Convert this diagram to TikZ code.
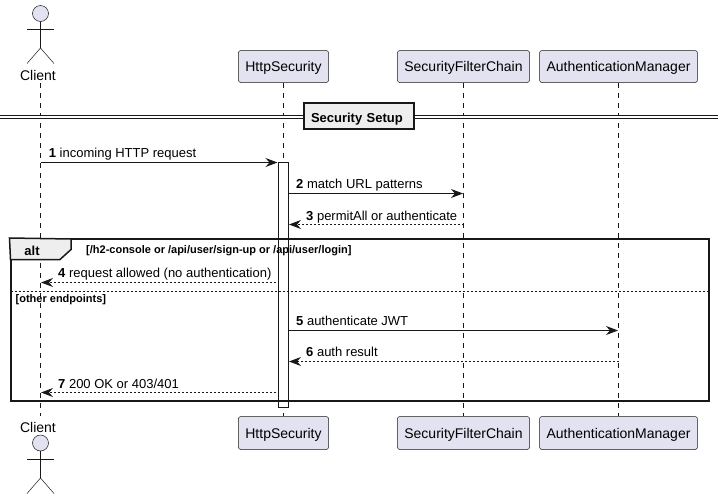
\documentclass[tikz,border=0pt]{standalone}
\usepackage{fontspec}
\setmainfont{Liberation Sans}
\usetikzlibrary{arrows.meta}

\definecolor{partfill}{HTML}{E2E2F0}
\definecolor{linedark}{HTML}{181818}
\definecolor{tabfill}{HTML}{EEEEEE}

\begin{document}
\begin{tikzpicture}[x=1pt,y=-1pt,>={Stealth[length=12pt,width=9pt,inset=4pt]},node distance=180pt,
    part/.style={rectangle,draw=linedark,line width=0.5pt,fill=partfill,rounded corners=2.5pt,minimum height=32pt,inner xsep=7pt,inner ysep=0pt,text height=10.4pt,text depth=0pt,font=\fontsize{14}{16}\selectfont},
    actor text/.style={inner sep=0pt,text height=10pt,text depth=3pt,font=\fontsize{14}{16}\selectfont},
    actor line/.style={draw=linedark,line width=0.5pt},
    life/.style={draw=linedark,line width=0.5pt,dash pattern=on 5pt off 5pt},
    call/.style={->,draw=linedark,line width=1pt},
    reply/.style={->,draw=linedark,line width=1pt,dash pattern=on 2pt off 2pt},
    msg/.style={anchor=base west,inner sep=0pt,font=\fontsize{13}{15}\selectfont},
    guard/.style={anchor=base west,inner sep=0pt,font=\fontsize{11}{13}\selectfont\bfseries}]
    \useasboundingbox (0,0) rectangle (724,499);

    % participants, top row and bottom row
    \node [part] (http) at (283.5,66.5) {HttpSecurity};
    \node [part] (chain) [right of=http] {SecurityFilterChain};
    \node [part] (manager) [right of=chain, xshift=-25pt] {AuthenticationManager};
    \node [part, minimum height=33pt] (http2) [below of=http, yshift=-186.5pt] {HttpSecurity};
    \node [part, minimum height=33pt] (chain2) [below of=chain, yshift=-186.5pt] {SecurityFilterChain};
    \node [part, minimum height=33pt] (manager2) [below of=manager, yshift=-186.5pt] {AuthenticationManager};

    % the actor, twice
    \node [circle, actor line, fill=partfill, minimum size=16pt, inner sep=0pt] (head) at (40.5,13.5) {};
    \coordinate (hip) at (40.5,48);
    \coordinate (armL) at (27,29);
    \coordinate (armR) at (54,29);
    \coordinate (footL) at (27,63.5);
    \coordinate (footR) at (54,63.5);
    \node [actor text] (client) at (38,76.5) {Client};
    \node [actor text] (client2) at (38,428.5) {Client};
    \node [circle, actor line, fill=partfill, minimum size=16pt, inner sep=0pt] (head2) at (40.5,443) {};
    \coordinate (hip2) at (40.5,478);
    \coordinate (armL2) at (27,459.5);
    \coordinate (armR2) at (54,459.5);
    \coordinate (footL2) at (27,493.5);
    \coordinate (footR2) at (54,493.5);
    \draw [actor line] (head) -- (hip);
    \draw [actor line] (armL) -- (armR);
    \draw [actor line] (footL) -- (hip) -- (footR);
    \draw [actor line] (head2) -- (hip2);
    \draw [actor line] (armL2) -- (armR2);
    \draw [actor line] (footL2) -- (hip2) -- (footR2);

    % lifelines
    \coordinate (lifeA) at (40.5,83);
    \coordinate (lifeB) at (40.5,416);
    \draw [life] (lifeA) -- (lifeB);
    \draw [life] (http) -- (http2);
    \draw [life] (chain) -- (chain2);
    \draw [life] (manager) -- (manager2);

    % activation
    \node [rectangle, draw=linedark, line width=1pt, fill=white, minimum width=10pt, minimum height=244.5pt, inner sep=0pt] (active) at (283.5,284.75) {};

    % divider
    \coordinate (divL) at (0,117);
    \coordinate (divR) at (718,117);
    \draw [draw=linedark, line width=1pt, double=white, double distance=2pt] (divL) -- (divR);
    \node [rectangle, draw=linedark, line width=2pt, fill=tabfill, minimum width=110pt, minimum height=26pt, inner xsep=7pt, inner ysep=0pt, text width=96pt, align=left, text height=12.6pt, text depth=0pt, font=\fontsize{13}{15}\selectfont\bfseries] (setup) at (359,116) {Security Setup};

    % alt frame
    \node [rectangle, draw=linedark, line width=2pt, minimum width=698pt, minimum height=161.5pt, inner sep=0pt] (frame) at (359.5,319.75) {};
    \coordinate (tabA) at (71,239);
    \coordinate (tabB) at (71,249.5);
    \coordinate (tabC) at (60,259.5);
    \coordinate (tabD) at (10.5,259.5);
    \draw [draw=linedark, line width=1.5pt, fill=tabfill] (frame.north west) -- (tabA) -- (tabB) -- (tabC) -- (tabD) -- cycle;
    \node [anchor=base, inner sep=0pt, font=\fontsize{13}{15}\selectfont\bfseries] (alt) at (32,255) {alt};
    \node [guard] (guardA) at (86,253.5) {[/h2-console or /api/user/sign-up or /api/user/login]};
    \node [guard] (guardB) at (15.5,302.5) {[other endpoints]};
    \coordinate (sepL) at (10.5,291.5);
    \coordinate (sepR) at (708.5,291.5);
    \draw [draw=linedark, line width=0.75pt, dash pattern=on 2pt off 2pt] (sepL) -- (sepR);

    % messages
    \coordinate (a1) at (40.5,162.5);
    \coordinate (b1) at (277.5,162.5);
    \coordinate (a2) at (288.5,193.5);
    \coordinate (b2) at (463,193.5);
    \coordinate (a3) at (463.5,224.5);
    \coordinate (b3) at (289,224.5);
    \coordinate (a4) at (276,282.5);
    \coordinate (b4) at (41,282.5);
    \coordinate (a5) at (288.5,330.5);
    \coordinate (b5) at (618,330.5);
    \coordinate (a6) at (618.5,361.5);
    \coordinate (b6) at (289,361.5);
    \coordinate (a7) at (276,392.5);
    \coordinate (b7) at (41,392.5);
    \draw [call] (a1) -- (b1);
    \draw [call] (a2) -- (b2);
    \draw [reply] (a3) -- (b3);
    \draw [reply] (a4) -- (b4);
    \draw [call] (a5) -- (b5);
    \draw [reply] (a6) -- (b6);
    \draw [reply] (a7) -- (b7);

    \node [msg] (label1) at (48.7,157) {\textbf{1} incoming HTTP request};
    \node [msg] (label2) at (296,188) {\textbf{2} match URL patterns};
    \node [msg] (label3) at (306,220) {\textbf{3} permitAll or authenticate};
    \node [msg] (label4) at (58,277) {\textbf{4} request allowed (no authentication)};
    \node [msg] (label5) at (296,325) {\textbf{5} authenticate JWT};
    \node [msg] (label6) at (306,356) {\textbf{6} auth result};
    \node [msg] (label7) at (58,388) {\textbf{7} 200 OK or 403/401};
\end{tikzpicture}
\end{document}
